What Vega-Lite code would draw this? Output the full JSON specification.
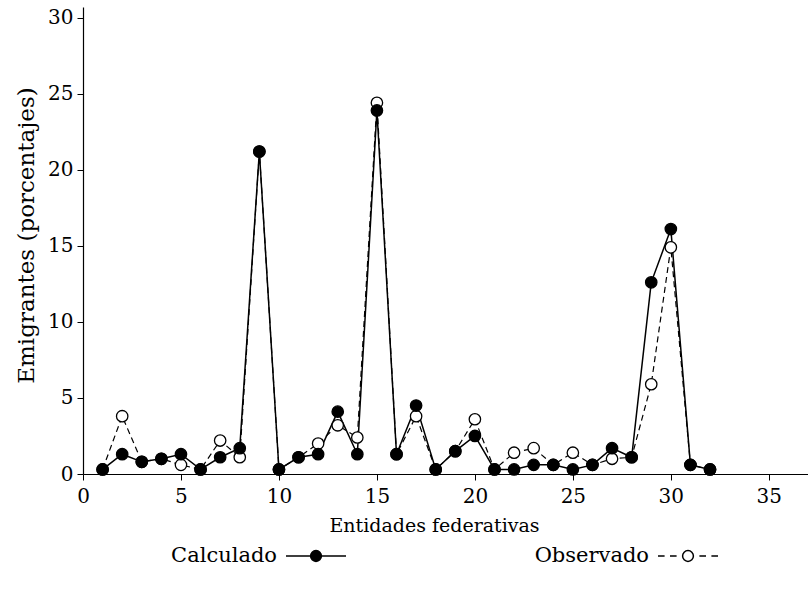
{
  "$schema": "https://vega.github.io/schema/vega-lite/v6.json",
  "width": 725,
  "height": 467,
  "autosize": "none",
  "padding": {"left": 83, "top": 7, "right": 0, "bottom": 116},
  "background": "white",
  "config": {
    "font": "DejaVu Serif",
    "view": {"stroke": null},
    "axis": {
      "grid": false,
      "domainColor": "black",
      "domainWidth": 1.2,
      "tickColor": "black",
      "tickSize": 6,
      "tickWidth": 1,
      "labelFont": "DejaVu Serif",
      "labelFontSize": 20,
      "labelColor": "black",
      "titleFont": "DejaVu Serif",
      "titleFontWeight": "normal",
      "titleColor": "black"
    }
  },
  "data": {
    "values": [
      {"entidad": 1, "porcentaje": 0.3, "serie": "Observado"},
      {"entidad": 2, "porcentaje": 3.8, "serie": "Observado"},
      {"entidad": 3, "porcentaje": 0.8, "serie": "Observado"},
      {"entidad": 4, "porcentaje": 1.0, "serie": "Observado"},
      {"entidad": 5, "porcentaje": 0.6, "serie": "Observado"},
      {"entidad": 6, "porcentaje": 0.3, "serie": "Observado"},
      {"entidad": 7, "porcentaje": 2.2, "serie": "Observado"},
      {"entidad": 8, "porcentaje": 1.1, "serie": "Observado"},
      {"entidad": 9, "porcentaje": 21.2, "serie": "Observado"},
      {"entidad": 10, "porcentaje": 0.3, "serie": "Observado"},
      {"entidad": 11, "porcentaje": 1.1, "serie": "Observado"},
      {"entidad": 12, "porcentaje": 2.0, "serie": "Observado"},
      {"entidad": 13, "porcentaje": 3.2, "serie": "Observado"},
      {"entidad": 14, "porcentaje": 2.4, "serie": "Observado"},
      {"entidad": 15, "porcentaje": 24.4, "serie": "Observado"},
      {"entidad": 16, "porcentaje": 1.3, "serie": "Observado"},
      {"entidad": 17, "porcentaje": 3.8, "serie": "Observado"},
      {"entidad": 18, "porcentaje": 0.3, "serie": "Observado"},
      {"entidad": 19, "porcentaje": 1.5, "serie": "Observado"},
      {"entidad": 20, "porcentaje": 3.6, "serie": "Observado"},
      {"entidad": 21, "porcentaje": 0.3, "serie": "Observado"},
      {"entidad": 22, "porcentaje": 1.4, "serie": "Observado"},
      {"entidad": 23, "porcentaje": 1.7, "serie": "Observado"},
      {"entidad": 24, "porcentaje": 0.6, "serie": "Observado"},
      {"entidad": 25, "porcentaje": 1.4, "serie": "Observado"},
      {"entidad": 26, "porcentaje": 0.6, "serie": "Observado"},
      {"entidad": 27, "porcentaje": 1.0, "serie": "Observado"},
      {"entidad": 28, "porcentaje": 1.1, "serie": "Observado"},
      {"entidad": 29, "porcentaje": 5.9, "serie": "Observado"},
      {"entidad": 30, "porcentaje": 14.9, "serie": "Observado"},
      {"entidad": 31, "porcentaje": 0.6, "serie": "Observado"},
      {"entidad": 32, "porcentaje": 0.3, "serie": "Observado"},
      {"entidad": 1, "porcentaje": 0.3, "serie": "Calculado"},
      {"entidad": 2, "porcentaje": 1.3, "serie": "Calculado"},
      {"entidad": 3, "porcentaje": 0.8, "serie": "Calculado"},
      {"entidad": 4, "porcentaje": 1.0, "serie": "Calculado"},
      {"entidad": 5, "porcentaje": 1.3, "serie": "Calculado"},
      {"entidad": 6, "porcentaje": 0.3, "serie": "Calculado"},
      {"entidad": 7, "porcentaje": 1.1, "serie": "Calculado"},
      {"entidad": 8, "porcentaje": 1.7, "serie": "Calculado"},
      {"entidad": 9, "porcentaje": 21.2, "serie": "Calculado"},
      {"entidad": 10, "porcentaje": 0.3, "serie": "Calculado"},
      {"entidad": 11, "porcentaje": 1.1, "serie": "Calculado"},
      {"entidad": 12, "porcentaje": 1.3, "serie": "Calculado"},
      {"entidad": 13, "porcentaje": 4.1, "serie": "Calculado"},
      {"entidad": 14, "porcentaje": 1.3, "serie": "Calculado"},
      {"entidad": 15, "porcentaje": 23.9, "serie": "Calculado"},
      {"entidad": 16, "porcentaje": 1.3, "serie": "Calculado"},
      {"entidad": 17, "porcentaje": 4.5, "serie": "Calculado"},
      {"entidad": 18, "porcentaje": 0.3, "serie": "Calculado"},
      {"entidad": 19, "porcentaje": 1.5, "serie": "Calculado"},
      {"entidad": 20, "porcentaje": 2.5, "serie": "Calculado"},
      {"entidad": 21, "porcentaje": 0.3, "serie": "Calculado"},
      {"entidad": 22, "porcentaje": 0.3, "serie": "Calculado"},
      {"entidad": 23, "porcentaje": 0.6, "serie": "Calculado"},
      {"entidad": 24, "porcentaje": 0.6, "serie": "Calculado"},
      {"entidad": 25, "porcentaje": 0.3, "serie": "Calculado"},
      {"entidad": 26, "porcentaje": 0.6, "serie": "Calculado"},
      {"entidad": 27, "porcentaje": 1.7, "serie": "Calculado"},
      {"entidad": 28, "porcentaje": 1.1, "serie": "Calculado"},
      {"entidad": 29, "porcentaje": 12.6, "serie": "Calculado"},
      {"entidad": 30, "porcentaje": 16.1, "serie": "Calculado"},
      {"entidad": 31, "porcentaje": 0.6, "serie": "Calculado"},
      {"entidad": 32, "porcentaje": 0.3, "serie": "Calculado"}
    ]
  },
  "encoding": {
    "x": {
      "field": "entidad",
      "type": "quantitative",
      "scale": {"domain": [0, 37], "nice": false, "zero": false},
      "axis": {
        "values": [0, 5, 10, 15, 20, 25, 30, 35],
        "title": "Entidades federativas",
        "titleFontSize": 19,
        "titleColor": "black",
        "titleX": 351,
        "labelPadding": 6,
        "titlePadding": 10,
        "labelFlush": false
      }
    },
    "y": {
      "field": "porcentaje",
      "type": "quantitative",
      "scale": {"domain": [0, 30.7], "nice": false},
      "axis": {
        "values": [0, 5, 10, 15, 20, 25, 30],
        "title": "Emigrantes (porcentajes)",
        "titleFontSize": 23,
        "titleColor": "black",
        "titleY": 228,
        "labelPadding": 4,
        "titlePadding": 9,
        "labelFlush": false
      }
    }
  },
  "layer": [
    {
      "transform": [{"filter": "datum.serie === 'Observado'"}],
      "mark": {"type": "line", "color": "black", "strokeWidth": 1.2, "strokeDash": [6, 4]},
      "encoding": {}
    },
    {
      "transform": [{"filter": "datum.serie === 'Calculado'"}],
      "mark": {"type": "line", "color": "black", "strokeWidth": 1.5},
      "encoding": {}
    },
    {
      "mark": {"type": "point", "filled": true, "stroke": "black", "strokeWidth": 1.3, "size": 130, "opacity": 1},
      "encoding": {
        "fill": {
          "field": "serie",
          "type": "nominal",
          "scale": {"domain": ["Calculado", "Observado"], "range": ["black", "white"]},
          "legend": {
            "title": null,
            "orient": "none",
            "legendX": 202,
            "legendY": 518,
            "direction": "horizontal",
            "columns": 2,
            "columnPadding": 185,
            "padding": 0,
            "labelFont": "DejaVu Serif",
            "labelFontSize": 21,
            "labelColor": "black",
            "labelAlign": "right",
            "labelOffset": -70,
            "labelLimit": 300,
            "symbolSize": 3600,
            "symbolStrokeColor": "black",
            "symbolStrokeWidth": 1.5,
            "symbolOpacity": 1,
            "encode": {
              "symbols": {
                "update": {
                  "shape": {
                    "signal": "datum.value === 'Calculado' ? 'M-1,0H1M0.18,0A0.18,0.18,0,1,1,-0.18,0A0.18,0.18,0,1,1,0.18,0Z' : 'M-1,0H-0.78M-0.6,0H-0.38M0.18,0A0.18,0.18,0,1,1,-0.18,0A0.18,0.18,0,1,1,0.18,0ZM0.38,0H0.6M0.78,0H1'"
                  },
                  "stroke": {"value": "black"},
                  "strokeWidth": {"value": 1.5}
                }
              }
            }
          }
        }
      }
    }
  ]
}
